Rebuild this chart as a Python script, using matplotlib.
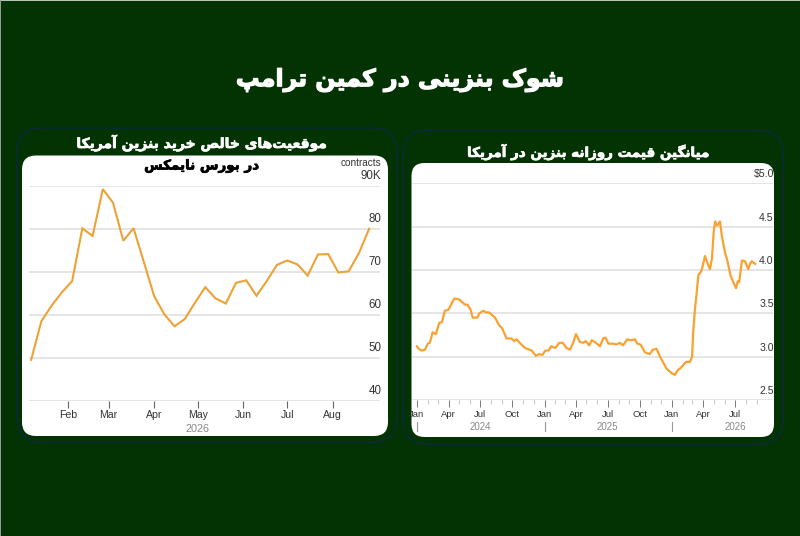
import numpy as np
import pandas as pd
import matplotlib
matplotlib.use("Agg")
import matplotlib.pyplot as plt
import matplotlib.dates as mdates
import matplotlib.patheffects as pe
from matplotlib.patches import FancyBboxPatch, Rectangle

plt.rcParams['font.family'] = ['Liberation Sans', 'DejaVu Sans']

# data
main_title = "شوک بنزینی در کمین ترامپ"
left_title = "موقعیت\u200cهای خالص خرید بنزین آمریکا"
left_title2 = "در بورس نایمکس"
right_title = "میانگین قیمت روزانه بنزین در آمریکا"

# weekly net long positions, thousand contracts
net_long = [49.5, 58.5, 62.1, 65.2, 67.8, 80.1, 78.3, 89.2, 86.0, 77.2, 80.1, 72.3,
            64.4, 60.1, 57.3, 59.0, 62.8, 66.4, 63.8, 62.6, 67.4, 68.0, 64.4, 67.8,
            71.6, 72.6, 71.7, 69.1, 74.0, 74.1, 69.8, 70.1, 74.3, 80.0]
left_months = ['2026-02-01', '2026-03-01', '2026-04-01', '2026-05-01', '2026-06-01', '2026-07-01', '2026-08-01']
left_yticks = [40, 50, 60, 70, 80, 90]
left_ylabels = ['40', '50', '60', '70', '80', '90K']

# gasoline price: days since 2024-01-01 and dollars
price_days = [0, 5, 14, 23, 31, 37, 45, 54, 64, 72, 80, 90, 107, 121, 138, 145, 154, 160,
              173, 179, 191, 198, 207, 224, 236, 244, 257, 271, 279, 286, 297, 310, 329,
              341, 351, 360, 368, 377, 385, 397, 408, 418, 429, 439, 448, 456, 467, 477,
              484, 494, 501, 510, 525, 534, 541, 549, 563, 572, 582, 591, 603, 615, 625,
              632, 641, 654, 660, 668, 676, 687, 697, 716, 730, 740, 747, 759, 771, 783,
              789, 792, 797, 802, 807, 816, 826, 832, 840, 846, 851, 855, 861, 869, 874,
              884, 890, 899, 907, 915, 920, 924, 932, 941, 950, 955, 960, 970]
price = [3.12, 3.09, 3.07, 3.08, 3.15, 3.16, 3.28, 3.26, 3.39, 3.40, 3.53, 3.54, 3.67, 3.66,
         3.60, 3.60, 3.54, 3.45, 3.45, 3.50, 3.53, 3.51, 3.51, 3.45, 3.36, 3.33, 3.21, 3.21,
         3.18, 3.20, 3.15, 3.10, 3.07, 3.01, 3.03, 3.02, 3.07, 3.07, 3.12, 3.10, 3.16, 3.16,
         3.10, 3.08, 3.16, 3.26, 3.17, 3.16, 3.18, 3.13, 3.19, 3.17, 3.12, 3.21, 3.22, 3.15,
         3.15, 3.14, 3.16, 3.13, 3.20, 3.19, 3.20, 3.15, 3.14, 3.05, 3.04, 3.03, 3.08, 3.09,
         3.00, 2.86, 2.81, 2.79, 2.84, 2.88, 2.94, 2.94, 3.00, 3.27, 3.54, 3.73, 3.94, 3.99,
         4.16, 4.09, 4.01, 4.13, 4.44, 4.56, 4.51, 4.56, 4.40, 4.19, 4.11, 3.94, 3.86, 3.79,
         3.87, 3.86, 4.11, 4.10, 4.01, 4.07, 4.10, 4.07]
right_yticks = [2.5, 3.0, 3.5, 4.0, 4.5, 5.0]
right_ylabels = ['2.5', '3.0', '3.5', '4.0', '4.5', '$5.0']
years = [2024, 2025, 2026]

BG = '#033203'
W, H = 800, 536

# matplotlib has no arabic shaping, so pick the presentation forms by hand
FORMS = {
    'ا': 'ﺍﺎ', 'آ': 'ﺁﺂ', 'د': 'ﺩﺪ', 'ر': 'ﺭﺮ', 'ز': 'ﺯﺰ', 'و': 'ﻭﻮ',
    'ب': 'ﺏﺐﺑﺒ', 'پ': 'ﭖﭗﭘﭙ', 'ت': 'ﺕﺖﺗﺘ', 'خ': 'ﺥﺦﺧﺨ', 'س': 'ﺱﺲﺳﺴ',
    'ش': 'ﺵﺶﺷﺸ', 'ص': 'ﺹﺺﺻﺼ', 'ع': 'ﻉﻊﻋﻌ', 'ق': 'ﻕﻖﻗﻘ', 'ک': 'ﮎﮏﮐﮑ',
    'گ': 'ﮒﮓﮔﮕ', 'ل': 'ﻝﻞﻟﻠ', 'م': 'ﻡﻢﻣﻤ', 'ن': 'ﻥﻦﻧﻨ', 'ه': 'ﻩﻪﻫﻬ',
    'ی': 'ﯼﯽﯾﯿ',
}


def shape(text):
    out = []
    for i, ch in enumerate(text):
        if ch not in FORMS:
            if ch != '\u200c':
                out.append(ch)
            continue
        prev = text[i - 1] if i > 0 else ' '
        nxt = text[i + 1] if i + 1 < len(text) else ' '
        join_prev = prev in FORMS and len(FORMS[prev]) == 4
        join_next = nxt in FORMS and len(FORMS[ch]) == 4
        forms = FORMS[ch]
        if join_prev and join_next:
            out.append(forms[3])
        elif join_next:
            out.append(forms[2])
        elif join_prev:
            out.append(forms[1])
        else:
            out.append(forms[0])
    return ''.join(reversed(out))


def px_axes(fig, x0, x1, y_top, y_bottom):
    return fig.add_axes([x0 / W, 1 - y_bottom / H, (x1 - x0) / W, (y_bottom - y_top) / H], facecolor='none')


def card(bg, x0, y0, x1, y1, r, **kw):
    p = FancyBboxPatch((x0, y0), x1 - x0, y1 - y0, boxstyle=f"round,pad=0,rounding_size={r}", **kw)
    bg.add_patch(p)
    return p


def title(x, y, s, color, size, stroke=0.5):
    t = bg.text(x, y, shape(s), color=color, fontsize=size, fontweight='bold', family=['DejaVu Sans'],
                ha='center', va='center')
    t.set_path_effects([pe.withStroke(linewidth=stroke, foreground=color)])


fig = plt.figure(figsize=(W / 100, H / 100), dpi=100, facecolor=BG)

# background layer in pixel coordinates
bg = fig.add_axes([0, 0, 1, 1])
bg.set_xlim(0, W)
bg.set_ylim(H, 0)
bg.axis('off')
bg.add_patch(Rectangle((0, 0), W, 1, color='#b9c4b9', lw=0))
bg.add_patch(Rectangle((0, 0), 1, H, color='#8fa08f', lw=0))
card(bg, 17, 128, 397, 442, 25, fc=BG, ec='#0b2a3c', lw=1.1)
card(bg, 403, 130, 783, 444, 25, fc=BG, ec='#0b2a3c', lw=1.1)
card(bg, 22, 155.5, 388, 436, 14, fc='white', ec='none')
right_card = card(bg, 411.5, 163, 774, 437, 13, fc='white', ec='none')

title(400, 80, main_title, 'white', 17, stroke=0.9)
title(202, 143, left_title, 'white', 10)
title(202, 166, left_title2, 'black', 9.7)
title(589, 152, right_title, 'white', 9.7)

# left chart
ax = px_axes(fig, 29.3, 380, 185.7, 400.7)
dates_l = pd.date_range('2026-01-07', periods=len(net_long), freq='7D')
ax.plot(dates_l, net_long, color='#eda237', lw=1.5, solid_joinstyle='miter', zorder=3)
ax.set_xlim(pd.Timestamp('2026-01-05 18:00'), pd.Timestamp('2026-09-02 10:00'))
ax.set_ylim(40, 90)
ax.set_yticks(left_yticks)
ax.set_yticklabels([])
ax.grid(axis='y', color='#dedede', lw=1.1)
ax.set_axisbelow(True)
ax.tick_params(axis='y', length=0)
ax.set_xticks(pd.to_datetime(left_months))
ax.xaxis.set_major_formatter(mdates.DateFormatter('%b'))
ax.tick_params(axis='x', length=5, width=0.8, color='#666666', labelcolor='#333333', labelsize=7.6, pad=2)
for s in ax.spines.values():
    s.set_visible(False)
for v, lab in zip(left_yticks, left_ylabels):
    ax.annotate(lab, xy=(1, v), xycoords=ax.get_yaxis_transform(), xytext=(1, 2.4), textcoords='offset points',
                ha='right', va='bottom', fontsize=8.3, color='#333333')
ax.text(1.004, 1.105, 'contracts', transform=ax.transAxes, ha='right', va='center', fontsize=7.2, color='#333333')
ax.annotate('2026', xy=(mdates.date2num(pd.Timestamp('2026-05-01')), 0), xycoords=ax.get_xaxis_transform(), xytext=(0, -20.5),
            textcoords='offset points', ha='center', va='center', fontsize=7.8, color='#888888')

# right chart
ax2 = px_axes(fig, 411.7, 773, 183.3, 400)
start = pd.Timestamp('2024-01-01')
dates_r = start + pd.to_timedelta(price_days, unit='D')
ax2.plot(dates_r, price, color='#f9a131', lw=1.6, zorder=3)
ax2.set_xlim(start - pd.Timedelta(days=15), start + pd.Timedelta(days=1021))
ax2.set_ylim(2.5, 5.0)
ax2.set_yticks(right_yticks)
ax2.set_yticklabels([])
ax2.grid(axis='y', color='#dedede', lw=1.1)
ax2.set_axisbelow(True)
ax2.tick_params(axis='y', length=0)
# the axis carries ticks only up to the last data month
ax2.set_xticks(pd.date_range('2024-01-01', '2026-07-01', freq='3MS'))
ax2.set_xticks(pd.date_range('2024-01-01', '2026-09-01', freq='MS'), minor=True)
ax2.xaxis.set_major_formatter(mdates.DateFormatter('%b'))
ax2.tick_params(axis='x', which='major', length=5, width=0.7, color='#777777', labelcolor='#333333', labelsize=6.8, pad=2)
ax2.tick_params(axis='x', which='minor', length=3, width=0.6, color='#bbbbbb')
for s in ax2.spines.values():
    s.set_visible(False)
for v, lab in zip(right_yticks, right_ylabels):
    t = ax2.text(1.002, v + 0.045, lab, transform=ax2.get_yaxis_transform(), ha='right', va='bottom',
                 fontsize=7.6, color='#333333', clip_on=False)
trans = ax2.get_xaxis_transform()
for y in years:
    d = mdates.date2num(pd.Timestamp(f'{y}-01-01'))
    ax2.plot([d, d], [-0.1, -0.145], transform=trans, color='#999999', lw=0.8, clip_on=False)
    ax2.annotate(str(y), xy=(mdates.date2num(pd.Timestamp(f'{y}-07-01')), 0), xycoords=trans, xytext=(0, -19.5),
                 textcoords='offset points', ha='center', va='center', fontsize=7, color='#888888')

# "Jan" at the far left is cut by the white card
fig.canvas.draw()
for lbl in ax2.get_xticklabels():
    lbl.set_clip_on(True)
    lbl.set_clip_path(right_card)

fig.savefig('out.png', dpi=100, facecolor=BG)
